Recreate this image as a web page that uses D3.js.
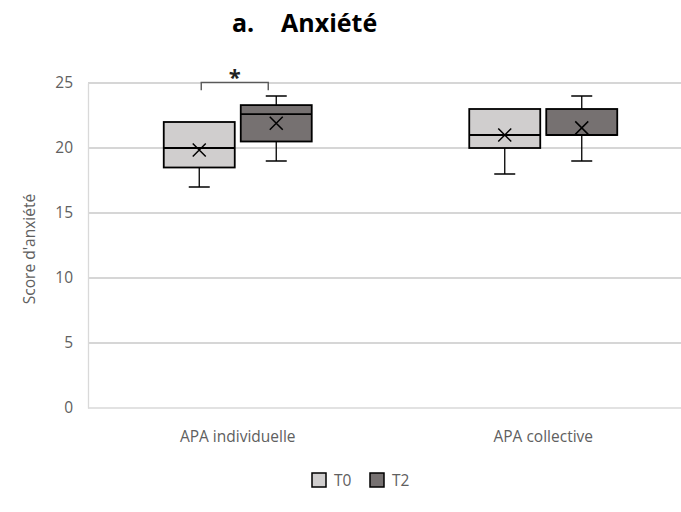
<!DOCTYPE html>
<html><head><meta charset="utf-8">
<script src="https://cdn.jsdelivr.net/npm/d3@7"></script>
<style>body{margin:0;background:#fff}svg{display:block}</style>
</head><body>
<script>
const categories = ["APA individuelle", "APA collective"];
const series = ["T0", "T2"];
const seriesColors = ["#d0cece", "#767171"];
const yTicks = [0, 5, 10, 15, 20, 25];
// box statistics per series, per category
const minVals    = { T0: [17, 18],    T2: [19, 19] };
const q1Vals     = { T0: [18.5, 20],  T2: [20.5, 21] };
const medianVals = { T0: [20, 21],    T2: [22.6, 21] };
const q3Vals     = { T0: [22, 23],    T2: [23.3, 23] };
const maxVals    = { T0: [22, 23],    T2: [24, 24] };
const meanVals   = { T0: [19.85, 21], T2: [21.9, 21.55] };
const significance = [{ category: "APA individuelle", label: "*", level: 25.05 }];

(function () {
const W = 681, H = 512;
const svg = d3.select("body").append("svg").attr("width", W).attr("height", H);
const FONT = "'Open Sans', sans-serif";
const FS = 15.5;
const TXT = "#606060";
const pLeft = 88, pTop = 83, pBottom = 408;

const y = d3.scaleLinear().domain([0, 25]).range([pBottom, pTop]);
const x = d3.scaleBand().domain(categories).range([85, 696]);
const xi = d3.scaleBand().domain(series).range([-77, 77]).paddingInner(0.078).paddingOuter(0.039);

// gridlines
svg.append("g").selectAll("line").data(yTicks).join("line")
  .attr("x1", pLeft).attr("x2", W).attr("y1", d => y(d)).attr("y2", d => y(d))
  .attr("stroke", d => d === 0 ? "#d9d9d9" : "#c8c8c8").attr("stroke-width", 1.3);

// y axis
const ya = svg.append("g").attr("transform", `translate(${pLeft},0)`)
  .call(d3.axisLeft(y).tickValues(yTicks).tickSize(0).tickPadding(15));
ya.select(".domain").attr("stroke", "#d9d9d9").attr("stroke-width", 1.3);
ya.selectAll("text").attr("font-family", FONT).attr("font-size", FS).attr("fill", TXT);

// x axis labels
const xa = svg.append("g").attr("transform", `translate(0,${pBottom})`)
  .call(d3.axisBottom(x).tickSize(0).tickPadding(22.5));
xa.select(".domain").remove();
xa.selectAll("text").attr("font-family", FONT).attr("font-size", FS).attr("fill", TXT);

// y title
svg.append("text").attr("transform", `translate(35,249) rotate(-90)`)
  .attr("text-anchor", "middle").attr("font-family", FONT).attr("font-size", FS)
  .attr("fill", TXT).text("Score d'anxiété");

// boxes
const boxes = [];
series.forEach((s, si) => categories.forEach((c, ci) => boxes.push({
  s, si, c, min: minVals[s][ci], q1: q1Vals[s][ci], med: medianVals[s][ci],
  q3: q3Vals[s][ci], max: maxVals[s][ci], mean: meanVals[s][ci]
})));
const bw = xi.bandwidth();
const cx = d => x(d.c) + x.bandwidth() / 2 + xi(d.s) + bw / 2;
const capW = 21;
const g = svg.append("g").selectAll("g").data(boxes).join("g");
g.append("line").attr("x1", cx).attr("x2", cx).attr("y1", d => y(d.max)).attr("y2", d => y(d.q3))
  .attr("stroke", "#000").attr("stroke-width", 1.3);
g.append("line").attr("x1", cx).attr("x2", cx).attr("y1", d => y(d.q1)).attr("y2", d => y(d.min))
  .attr("stroke", "#000").attr("stroke-width", 1.3);
g.filter(d => d.max > d.q3).append("line").attr("x1", d => cx(d) - capW / 2).attr("x2", d => cx(d) + capW / 2)
  .attr("y1", d => y(d.max)).attr("y2", d => y(d.max)).attr("stroke", "#000").attr("stroke-width", 1.5);
g.append("line").attr("x1", d => cx(d) - capW / 2).attr("x2", d => cx(d) + capW / 2)
  .attr("y1", d => y(d.min)).attr("y2", d => y(d.min)).attr("stroke", "#000").attr("stroke-width", 1.5);
g.append("rect").attr("x", d => cx(d) - bw / 2).attr("width", bw)
  .attr("y", d => y(d.q3)).attr("height", d => y(d.q1) - y(d.q3))
  .attr("fill", d => seriesColors[d.si]).attr("stroke", "#000").attr("stroke-width", 1.8);
g.append("line").attr("x1", d => cx(d) - bw / 2).attr("x2", d => cx(d) + bw / 2)
  .attr("y1", d => y(d.med)).attr("y2", d => y(d.med)).attr("stroke", "#000").attr("stroke-width", 1.8);
const m = 6.5;
g.append("path").attr("d", d => {
  const X = cx(d), Y = y(d.mean);
  return `M${X - m},${Y - m}L${X + m},${Y + m}M${X - m},${Y + m}L${X + m},${Y - m}`;
}).attr("stroke", "#000").attr("stroke-width", 1.5).attr("fill", "none");

// significance bracket
significance.forEach(sg => {
  const base = x(sg.category) + x.bandwidth() / 2;
  const x1 = base + xi("T0") + bw / 2 + 2, x2 = base + xi("T2") + bw / 2 - 8;
  const yy = y(sg.level);
  svg.append("path").attr("d", `M${x1},${yy + 8}V${yy}H${x2}V${yy + 8}`)
    .attr("stroke", "#595959").attr("stroke-width", 1.4).attr("fill", "none");
  svg.append("text").attr("x", (x1 + x2) / 2).attr("y", yy + 3).attr("text-anchor", "middle")
    .attr("font-family", FONT).attr("font-weight", "bold").attr("font-size", 22).attr("fill", "#222").text(sg.label);
});

// title
svg.append("text").attr("x", 232).attr("y", 32).attr("font-family", FONT).attr("font-weight", "bold")
  .attr("font-size", 25).attr("fill", "#000").text("a.");
svg.append("text").attr("x", 281).attr("y", 32).attr("font-family", FONT).attr("font-weight", "bold")
  .attr("font-size", 25).attr("fill", "#000").text("Anxiété");

// legend
const lg = svg.append("g").selectAll("g").data(series).join("g")
  .attr("transform", (d, i) => `translate(${312 + i * 58},473)`);
lg.append("rect").attr("width", 14).attr("height", 14).attr("fill", (d, i) => seriesColors[i])
  .attr("stroke", "#000").attr("stroke-width", 1.5);
lg.append("text").attr("x", 22).attr("y", 13).attr("font-family", FONT).attr("font-size", FS)
  .attr("fill", TXT).text(d => d);
})();
</script>
</body></html>
